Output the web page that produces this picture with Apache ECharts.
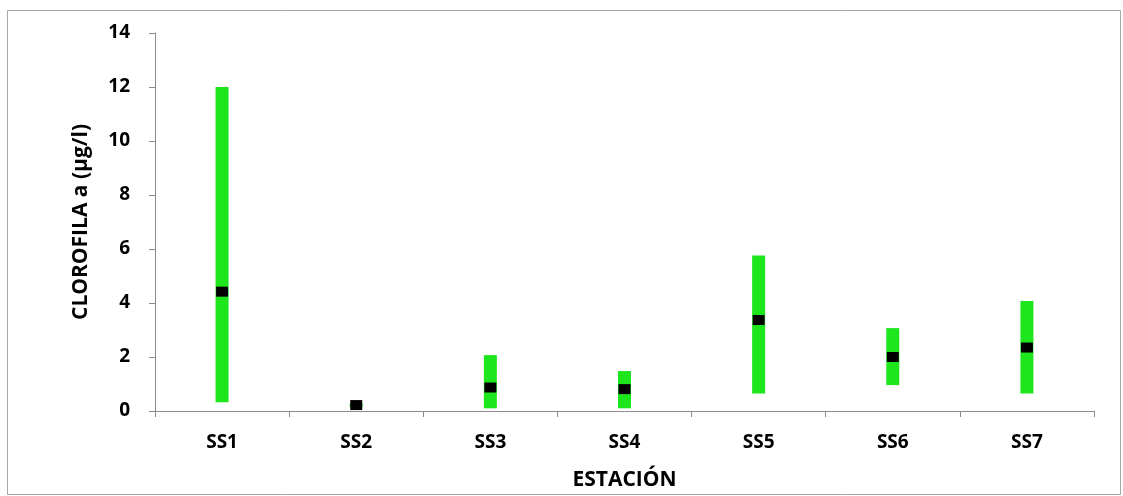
<!DOCTYPE html>
<html>
<head>
<meta charset="utf-8">
<script src="https://cdn.jsdelivr.net/npm/echarts@6/dist/echarts.min.js"></script>
<style>
  html, body { margin: 0; padding: 0; background: #fff; }
  #chart { width: 1123px; height: 496px; }
</style>
</head>
<body>
<div id="chart"></div>
<script>
// Stations sampled
const stations = ['SS1', 'SS2', 'SS3', 'SS4', 'SS5', 'SS6', 'SS7'];
// Chlorophyll a range (µg/l) per station: minimum, maximum and mean
const minValues = [0.32, 0.15, 0.10, 0.10, 0.65, 0.96, 0.65];
const maxValues = [12.0, 0.28, 2.07, 1.48, 5.76, 3.07, 4.07];
const meanValues = [4.42, 0.22, 0.87, 0.81, 3.37, 2.00, 2.35];
// Value axis ticks
const yMin = 0, yMax = 14, yStep = 2;

const FONT = '"Open Sans", Lato, sans-serif';
const AXIS_GREY = '#8c8c8c';

const rangeData = stations.map((s, i) => [i, minValues[i], maxValues[i]]);
const meanData = stations.map((s, i) => [i, meanValues[i]]);

const chart = echarts.init(document.getElementById('chart'), null, { renderer: 'canvas' });

chart.setOption({
  animation: false,
  backgroundColor: '#ffffff',
  graphic: [{
    type: 'rect',
    shape: { x: 7.5, y: 10.5, width: 1113, height: 484 },
    style: { fill: 'none', stroke: '#a6a6a6', lineWidth: 1 },
    silent: true,
    z: -1
  }],
  grid: { left: 155, right: 29, top: 33, bottom: 84, containLabel: false },
  xAxis: {
    type: 'category',
    data: stations,
    boundaryGap: true,
    name: 'ESTACIÓN',
    nameLocation: 'middle',
    nameGap: 59,
    nameTextStyle: { fontFamily: FONT, fontWeight: 'bold', fontSize: 21, color: '#000' },
    axisLine: { show: true, lineStyle: { color: AXIS_GREY, width: 1 } },
    axisTick: { show: true, alignWithLabel: false, length: 6, inside: false, lineStyle: { color: AXIS_GREY } },
    axisLabel: { fontFamily: FONT, fontWeight: 'bold', fontSize: 19, color: '#000', margin: 22 },
    splitLine: { show: false }
  },
  yAxis: {
    type: 'value',
    min: yMin,
    max: yMax,
    interval: yStep,
    name: 'CLOROFILA a (µg/l)',
    nameLocation: 'middle',
    nameGap: 63,
    nameTextStyle: { fontFamily: FONT, fontWeight: 'bold', fontSize: 21, color: '#000', padding: [0, 0, 0, 0] },
    axisLine: { show: true, lineStyle: { color: AXIS_GREY, width: 1 } },
    axisTick: { show: true, length: 6, lineStyle: { color: AXIS_GREY } },
    axisLabel: { fontFamily: FONT, fontWeight: 'bold', fontSize: 19, color: '#000', margin: 25 },
    splitLine: { show: false }
  },
  series: [
    {
      // Min–max range bar for each station
      type: 'custom',
      name: 'Rango',
      data: rangeData,
      encode: { x: 0, y: [1, 2] },
      renderItem: function (params, api) {
        const x = api.value(0);
        const lo = api.coord([x, api.value(1)]);
        const hi = api.coord([x, api.value(2)]);
        const w = 13;
        return {
          type: 'rect',
          shape: { x: lo[0] - w / 2, y: hi[1], width: w, height: lo[1] - hi[1] },
          style: { fill: '#1de61d' }
        };
      },
      z: 2
    },
    {
      // Mean value marker
      type: 'scatter',
      name: 'Promedio',
      data: meanData,
      symbol: 'rect',
      symbolSize: [12, 10],
      itemStyle: { color: '#000000', opacity: 1 },
      z: 3
    }
  ]
});
</script>
</body>
</html>
